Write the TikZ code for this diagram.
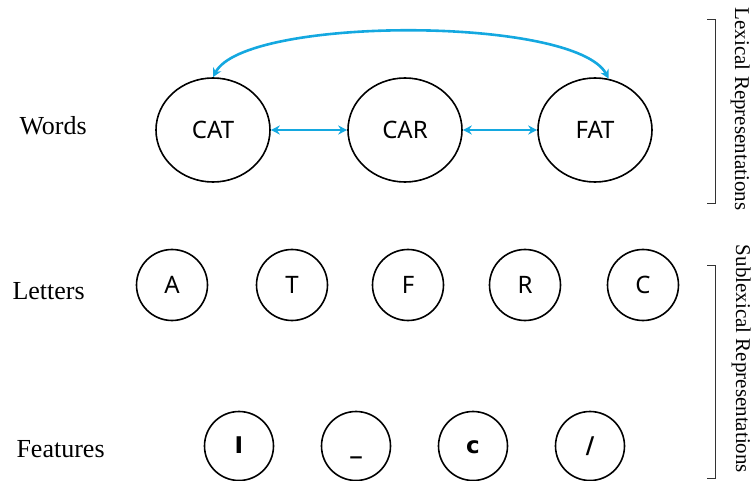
\documentclass[tikz,border=0pt]{standalone}
\usepackage{fontspec}
\setmainfont{Liberation Serif}
\setsansfont{Noto Sans}
\newfontfamily\featfont{DejaVu Sans}
\usepackage{tikz}
\usetikzlibrary{shapes.geometric, arrows.meta}
\definecolor{linkblue}{RGB}{20,168,224}

\begin{document}
\begin{tikzpicture}[x=1pt, y=-1pt,
  word/.style={draw, ellipse, line width=1.6pt, minimum width=114pt, minimum height=104pt, inner sep=0pt, font=\sffamily\fontsize{24}{24}\selectfont},
  letter/.style={draw, circle, line width=1.6pt, minimum size=71pt, inner sep=0pt, font=\sffamily\fontsize{24}{24}\selectfont},
  feature/.style={draw, circle, line width=1.6pt, minimum size=69pt, inner sep=0pt, text height=18pt, text depth=4pt, font=\featfont\bfseries\fontsize{23}{23}\selectfont},
  level/.style={anchor=base west, font=\fontsize{26}{26}\selectfont},
  group/.style={anchor=base, rotate=-90, font=\fontsize{21}{21}\selectfont},
  link/.style={draw=linkblue, line width=2.6pt, {Stealth[length=9pt,width=9pt]}-{Stealth[length=9pt,width=9pt]}},
  brace/.style={draw=black!80, line width=0.9pt}]
\useasboundingbox (0,0) rectangle (753,481);

\node[level] (words) at (16,135) {Words};
\node[level] (letters) at (9,300) {Letters};
\node[level] (features) at (13,457) {Features};

\node[word] (cat) at (213,130) {CAT};
\node[word] (car) at (405,130) {CAR};
\node[word] (fat) at (595,130) {FAT};

\draw[link] (cat) -- (car);
\draw[link] (car) -- (fat);
\draw[link] (cat.north) .. controls (245,16) and (575,16) .. (fat.75);

\node[letter] (a) at (172,285) {A};
\node[letter] (t) at (292,285) {T};
\node[letter] (f) at (408,285) {F};
\node[letter] (r) at (525,285) {R};
\node[letter] (c) at (643,285) {C};

\node[feature] (vert) at (239,446) {I};
\node[feature] (horiz) at (356,446) {\_};
\node[feature] (curve) at (473,446) {c};
\node[feature] (slant) at (590,446) {/};

\coordinate (lexTop) at (715,19);
\coordinate (lexBot) at (715,203);
\coordinate (subTop) at (715,265);
\coordinate (subBot) at (715,478);
\draw[brace] ([xshift=-8pt]lexTop) -- (lexTop) -- (lexBot) -- ([xshift=-8pt]lexBot);
\draw[brace] ([xshift=-8pt]subTop) -- (subTop) -- (subBot) -- ([xshift=-8pt]subBot);

\node[group] (lexical) at (735,109) {Lexical Representations};
\node[group] (sublexical) at (736,359) {Sublexical Representations};
\end{tikzpicture}
\end{document}
